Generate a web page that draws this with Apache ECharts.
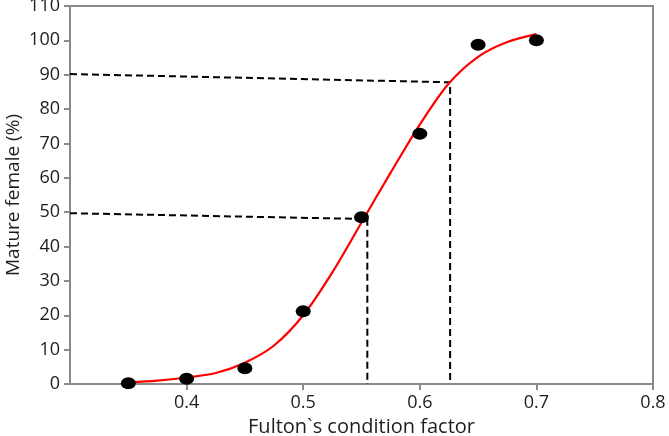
<!DOCTYPE html>
<html>
<head>
<meta charset="utf-8">
<script src="https://cdn.jsdelivr.net/npm/echarts@6/dist/echarts.min.js"></script>
<style>
html,body{margin:0;padding:0;background:#fff;}
#chart{width:669px;height:436px;}
</style>
</head>
<body>
<div id="chart"></div>
<script>
// Observed data points (Fulton's condition factor, % mature females)
const obsX = [0.35, 0.40, 0.45, 0.50, 0.55, 0.60, 0.65, 0.70];
const obsY = [0.2, 1.5, 4.6, 21.2, 48.5, 72.8, 98.7, 100.0];

// Fitted curve
const curveX = [0.35, 0.375, 0.40, 0.425, 0.45, 0.475, 0.50, 0.525, 0.55, 0.575, 0.60, 0.625, 0.65, 0.675, 0.70];
const curveY = [0.5, 1.0, 1.9, 3.2, 6.2, 11.2, 20.0, 32.5, 47.0, 61.5, 75.5, 87.5, 95.2, 99.5, 101.8];

// Dashed reference lines (L50 and L90)
const guide50 = [[0.30, 49.7], [0.555, 48.0], [0.555, 0]];
const guide90 = [[0.30, 90.2], [0.626, 87.8], [0.626, 0]];

// Axis ticks
const xTicks = [0.3, 0.8, 0.1];
const yTicks = [0, 110, 10];

const toPairs = (xs, ys) => xs.map((x, i) => [x, ys[i]]);

const axisColor = '#8a8a8a';
const textColor = '#1e1e1e';
const font = 'Open Sans';

const chart = echarts.init(document.getElementById('chart'), null, {renderer: 'canvas'});
chart.setOption({
  animation: false,
  backgroundColor: '#fff',
  grid: {left: 70, right: 16, top: 6, bottom: 52, containLabel: false, outerBoundsMode: 'none',
    show: true, borderColor: axisColor, borderWidth: 2, backgroundColor: 'transparent'},
  xAxis: {
    type: 'value', min: xTicks[0], max: xTicks[1], interval: xTicks[2],
    name: 'Fulton`s condition factor', nameLocation: 'middle', nameGap: 32,
    nameTextStyle: {color: textColor, fontSize: 20, fontFamily: font},
    axisLine: {show: true, lineStyle: {color: axisColor, width: 2}},
    axisTick: {show: true, length: 6, lineStyle: {color: axisColor, width: 2}},
    axisLabel: {color: textColor, fontSize: 18, fontFamily: font, margin: 10, showMinLabel: false,
      formatter: v => v.toFixed(1)},
    splitLine: {show: false}
  },
  yAxis: {
    type: 'value', min: yTicks[0], max: yTicks[1], interval: yTicks[2],
    name: 'Mature female (%)', nameLocation: 'middle', nameGap: 47, nameMoveOverlap: false,
    nameTextStyle: {color: textColor, fontSize: 19, fontFamily: font},
    axisLine: {show: true, lineStyle: {color: axisColor, width: 2}},
    axisTick: {show: true, length: 6, lineStyle: {color: axisColor, width: 2}},
    axisLabel: {color: textColor, fontSize: 18, fontFamily: font, margin: 10},
    splitLine: {show: false}
  },
  series: [
    {
      type: 'line', data: guide50, symbol: 'none', silent: true,
      lineStyle: {color: '#000', width: 2, type: [7, 4]}, z: 2
    },
    {
      type: 'line', data: guide90, symbol: 'none', silent: true,
      lineStyle: {color: '#000', width: 2, type: [7, 4]}, z: 2
    },
    {
      type: 'line', data: toPairs(curveX, curveY), symbol: 'none', smooth: 0.3,
      lineStyle: {color: '#ff0000', width: 2.2}, z: 3
    },
    {
      type: 'scatter', data: toPairs(obsX, obsY), symbol: 'circle', symbolSize: [15, 12],
      itemStyle: {color: '#000', opacity: 1}, z: 4
    }
  ]
});
</script>
</body>
</html>
